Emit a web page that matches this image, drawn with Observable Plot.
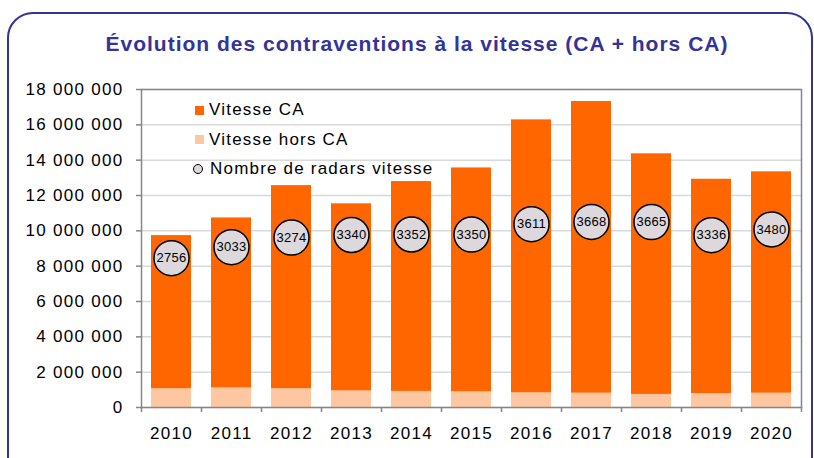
<!DOCTYPE html>
<html><head><meta charset="utf-8">
<script src="https://cdn.jsdelivr.net/npm/d3@7"></script>
<script src="https://cdn.jsdelivr.net/npm/@observablehq/plot@0.6"></script>
<style>
html,body{margin:0;padding:0;background:#fff;overflow:hidden;}
#wrap{position:relative;width:814px;height:458px;overflow:hidden;font-family:"Liberation Sans",Arial,sans-serif;}
#frame{position:absolute;left:7px;top:12px;width:806px;height:520px;box-sizing:border-box;border:2px solid #333399;border-radius:26px;pointer-events:none;}
#title{position:relative;height:70px;box-sizing:border-box;padding-top:33px;padding-left:20px;text-align:center;font-size:21px;line-height:21px;font-weight:bold;color:#333399;letter-spacing:1px;white-space:nowrap;}
#chart{position:relative;height:388px;}
.lg{position:absolute;font-size:17px;line-height:17px;letter-spacing:1.2px;color:#000;white-space:nowrap;}
.sq{position:absolute;width:9px;height:9px;}
.ci{position:absolute;width:10px;height:10px;box-sizing:border-box;border:1.5px solid #000;border-radius:50%;background:#dcd8dc;}
svg g[aria-label="text"] text{letter-spacing:0.3px;}
</style>
</head><body>
<div id="wrap">
  <div id="frame"></div>
  <div id="title">Évolution des contraventions à la vitesse (CA + hors CA)</div>
  <div id="chart"></div>
  <div class="sq" style="left:195px;top:106px;background:#FF6600"></div>
  <div class="lg" style="left:209px;top:101px">Vitesse CA</div>
  <div class="sq" style="left:195px;top:135px;background:#FFC7A1"></div>
  <div class="lg" style="left:209px;top:131px">Vitesse hors CA</div>
  <div class="ci" style="left:193px;top:164px"></div>
  <div class="lg" style="left:210px;top:160px">Nombre de radars vitesse</div>
</div>
<script>
const years = ["2010","2011","2012","2013","2014","2015","2016","2017","2018","2019","2020"];
const vitesseCA = [8670000, 9620000, 11500000, 10590000, 11880000, 12670000, 15450000, 16510000, 13620000, 12130000, 12530000];
const vitesseHorsCA = [1060000, 1110000, 1060000, 940000, 910000, 890000, 830000, 810000, 740000, 790000, 810000];
const radars = [2756, 3033, 3274, 3340, 3352, 3350, 3611, 3668, 3665, 3336, 3480];
const yTicks = [0, 2000000, 4000000, 6000000, 8000000, 10000000, 12000000, 14000000, 16000000, 18000000];
// secondary (hidden) axis for radar counts
const radarDomain = [-1000, 7000];
const yMax = 18000000;

const stacked = [];
years.forEach((y, i) => {
  stacked.push({year: y, serie: "Vitesse hors CA", value: vitesseHorsCA[i]});
  stacked.push({year: y, serie: "Vitesse CA", value: vitesseCA[i]});
});
const radarRows = years.map((y, i) => ({year: y, radars: radars[i]}));
const toPrimary = r => (r - radarDomain[0]) / (radarDomain[1] - radarDomain[0]) * yMax;

const fr = d3.formatLocale({thousands: "\u00a0", grouping: [3], decimal: ","});
const fmt = fr.format(",d");

const grey = "#868686";
const plot = Plot.plot({
  width: 814,
  height: 388,
  marginLeft: 141,
  marginRight: 13,
  marginTop: 19,
  marginBottom: 51,
  style: {fontFamily: "'Liberation Sans', Arial, sans-serif", fontSize: "17px", letterSpacing: "1.3px", color: "#000", background: "transparent", overflow: "visible"},
  x: {type: "band", domain: years, paddingInner: 1/3, paddingOuter: 1/6, label: null},
  y: {domain: [0, yMax], label: null},
  color: {domain: ["Vitesse CA", "Vitesse hors CA"], range: ["#FF6600", "#FFC7A1"]},
  marks: [
    Plot.gridY(yTicks, {stroke: "#d9d9d9", strokeOpacity: 1, strokeWidth: 1.5}),
    Plot.barY(stacked, {x: "year", y: "value", fill: "serie", order: null}),
    Plot.frame({stroke: grey, strokeWidth: 1.5}),
    Plot.axisY({ticks: yTicks, tickFormat: fmt, tickSize: 5, tickPadding: 13, stroke: grey, strokeWidth: 1.5, label: null}),
    Plot.axisX({tickSize: 0, tickPadding: 19, label: null}),
    Plot.ruleX(years, {x: d => d, y1: 0, y2: 0, insetBottom: -5, dx: -30, stroke: grey, strokeWidth: 1.5}),
    Plot.ruleX(years.slice(-1), {x: d => d, y1: 0, y2: 0, insetBottom: -5, dx: 30, stroke: grey, strokeWidth: 1.5}),
    Plot.dot(radarRows, {x: "year", y: d => toPrimary(d.radars), r: 17.5, fill: "#dcd8dc", stroke: "#000", strokeWidth: 1.5}),
    Plot.text(radarRows, {x: "year", y: d => toPrimary(d.radars), text: d => String(d.radars), fontSize: 13, fill: "#000"})
  ]
});
document.getElementById("chart").appendChild(plot);
</script>
</body></html>
